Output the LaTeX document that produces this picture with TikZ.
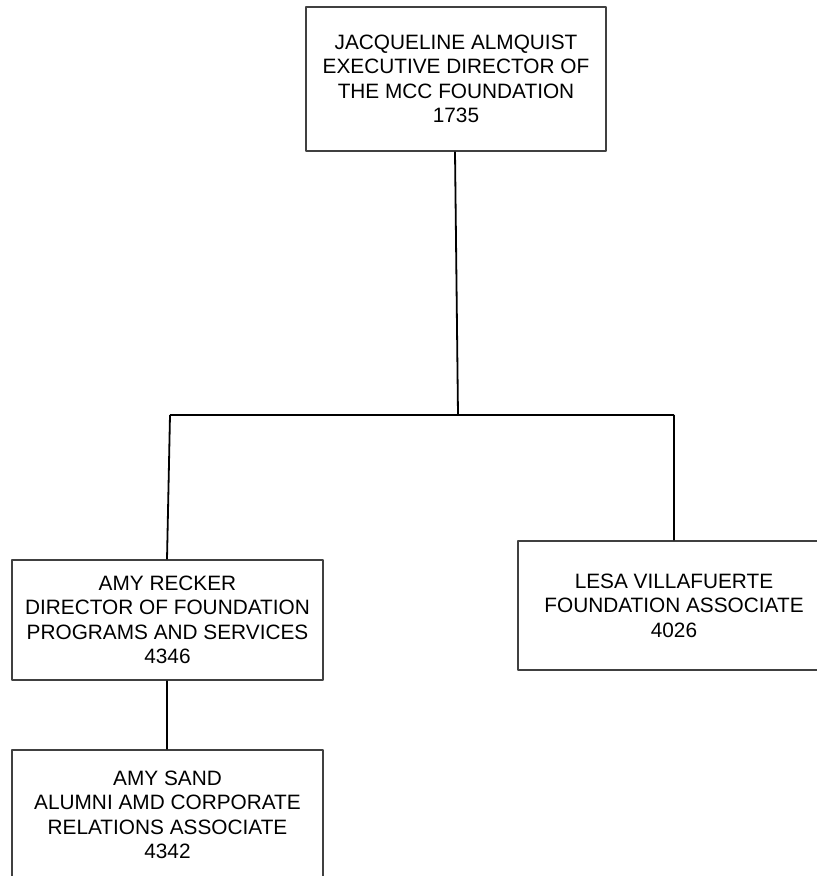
\documentclass[tikz,border=0pt]{standalone}
\usepackage{fontspec}
\setmainfont{Liberation Sans}
\begin{document}
\begin{tikzpicture}[x=1pt,y=-1pt,font=\fontsize{20.8}{24.5}\selectfont,line join=round,
	post/.style={draw=black!75,line width=1.1pt,fill=white,align=center,inner sep=0pt},
	link/.style={draw=black,line width=1.8pt}]
	\useasboundingbox (0,0) rectangle (817,876);
	\clip (0,0) rectangle (817,876);
	\path
	(456,79) node[post,minimum width=300,minimum height=144] (jacq)
	{JACQUELINE ALMQUIST\\EXECUTIVE DIRECTOR OF\\THE MCC FOUNDATION\\1735}
	(167.5,620) node[post,minimum width=311,minimum height=120] (recker)
	{AMY RECKER\\DIRECTOR OF FOUNDATION\\PROGRAMS AND SERVICES\\4346}
	(674,605.5) node[post,minimum width=312,minimum height=129] (lesa)
	{LESA VILLAFUERTE\\FOUNDATION ASSOCIATE\\4026}
	(167.5,815) node[post,minimum width=311,minimum height=130] (sand)
	{AMY SAND\\ALUMNI AMD CORPORATE\\RELATIONS ASSOCIATE\\4342}
	(458,415) coordinate (mid)
	(170,415) coordinate (L)
	(674,415) coordinate (R)
	;
	\draw[link]
	(jacq.south -| 455,0)--(mid)
	(L)--(R)
	(L)--(recker.north -| 167,0)
	(R)--(lesa.north)
	(recker.south -| 167,0)--(sand.north -| 167,0)
	;
\end{tikzpicture}
\end{document}
